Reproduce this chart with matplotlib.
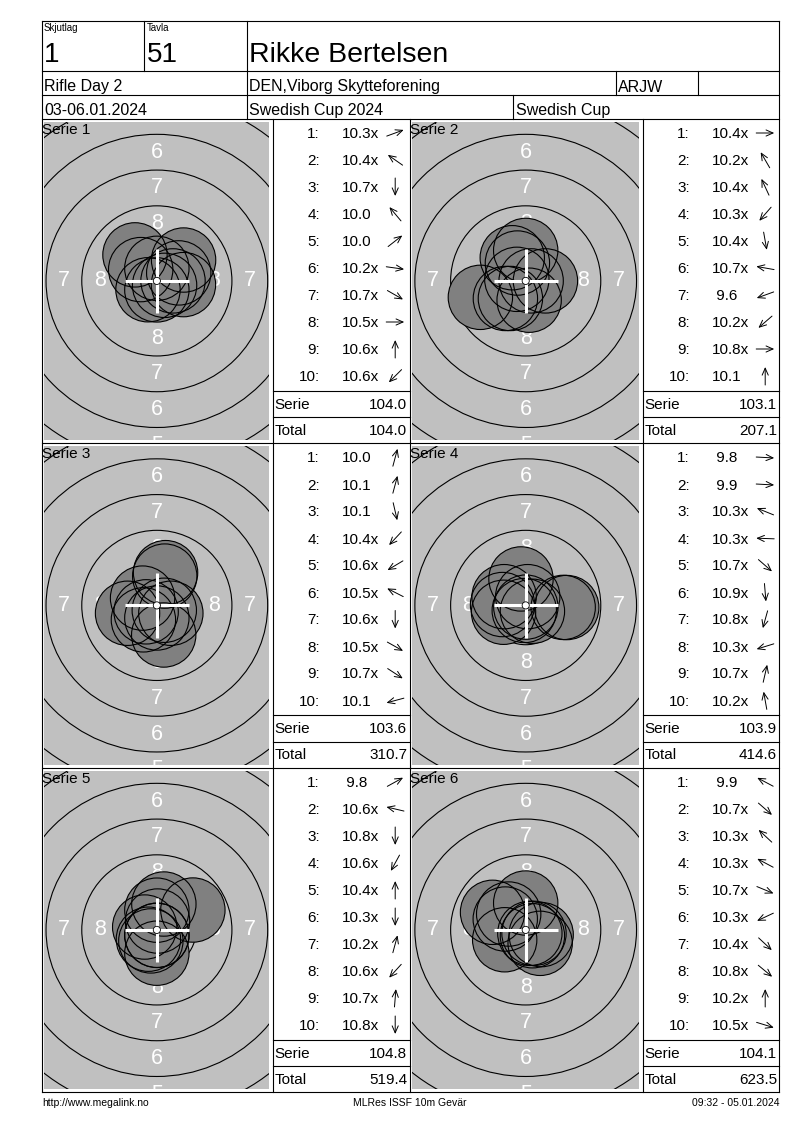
import numpy as np
import matplotlib.pyplot as plt
from matplotlib.patches import Circle

plt.rcParams['font.family'] = ['Liberation Sans', 'DejaVu Sans']

# Header texts
squad = '1'
lane = '51'
shooter = 'Rikke Bertelsen'
event = 'Rifle Day 2'
club = 'DEN,Viborg Skytteforening'
shooter_class = 'ARJW'
dates = '03-06.01.2024'
competition = 'Swedish Cup 2024'
cup = 'Swedish Cup'
footer_left = 'http://www.megalink.no'
footer_mid = 'MLRes ISSF 10m Gevär'
footer_right = '09:32 - 05.01.2024'

# Shot values per series (10 shots each)
shot_scores = [
    ['10.3x', '10.4x', '10.7x', '10.0', '10.0', '10.2x', '10.7x', '10.5x', '10.6x', '10.6x'],
    ['10.4x', '10.2x', '10.4x', '10.3x', '10.4x', '10.7x', '9.6', '10.2x', '10.8x', '10.1'],
    ['10.0', '10.1', '10.1', '10.4x', '10.6x', '10.5x', '10.6x', '10.5x', '10.7x', '10.1'],
    ['9.8', '9.9', '10.3x', '10.3x', '10.7x', '10.9x', '10.8x', '10.3x', '10.7x', '10.2x'],
    ['9.8', '10.6x', '10.8x', '10.6x', '10.4x', '10.3x', '10.2x', '10.6x', '10.7x', '10.8x'],
    ['9.9', '10.7x', '10.3x', '10.3x', '10.7x', '10.3x', '10.4x', '10.8x', '10.2x', '10.5x'],
]
# hit positions in mm from target centre
shot_x = [
    [1.53, -1.13, 0.00, -1.53, 1.87, 1.86, 0.54, 1.13, 0.00, -0.62],
    [1.38, -0.94, -0.58, -1.07, 0.24, -0.62, -3.17, -1.42, 0.38, 0.00],
    [0.61, 0.55, 0.48, -0.94, -0.75, -1.00, 0.00, 0.98, 0.52, -2.05],
    [2.87, 2.62, -1.51, -1.62, 0.47, 0.01, -0.10, -1.55, 0.14, -0.33],
    [2.52, -0.85, 0.00, -0.42, 0.00, 0.00, 0.49, -0.59, 0.05, 0.00],
    [-2.32, 0.47, -1.19, -1.43, 0.58, -1.47, 1.01, 0.29, 0.00, 1.08],
]
shot_y = [
    [0.56, 0.79, -0.63, 1.82, 1.46, -0.26, -0.31, 0.00, 0.88, -0.62],
    [0.00, 1.62, 1.25, -1.23, -1.35, 0.11, -1.15, -1.23, 0.00, 2.13],
    [2.29, 2.05, -2.07, -1.01, -0.45, 0.51, -0.88, -0.55, -0.34, -0.55],
    [-0.15, -0.14, 0.61, 0.06, -0.41, -0.12, -0.36, -0.48, 0.61, 1.85],
    [1.39, 0.20, -0.38, -0.77, 1.38, -1.63, 1.81, -0.65, 0.62, -0.38],
    [1.23, -0.41, 1.11, 0.76, -0.24, -0.69, -0.94, -0.24, 1.88, -0.33],
]
serie_sums = ['104.0', '103.1', '103.6', '103.9', '104.8', '104.1']
running_totals = ['104.0', '207.1', '310.7', '414.6', '519.4', '623.5']

# ISSF 10m air rifle target rings (radius in mm)
ring_radii = [2.75, 5.25, 7.75, 10.25, 12.75, 15.25]
ring_labels = ['8', '7', '6', '5']
ring_label_r = [4.0, 6.5, 9.0, 11.5]
pellet_r = 2.25

W, H = 800, 1130
PX_PER_MM = 14.3

fig = plt.figure(figsize=(8, 11.3), dpi=100)


def px_axes(x0, y0, x1, y1, **kw):
    return fig.add_axes([x0 / W, 1 - y1 / H, (x1 - x0) / W, (y1 - y0) / H], **kw)


# column edges and row layout (pixels)
L1, L2, L3, L4, R = 42, 272.7, 409.7, 642.7, 779.3
TOP, ROW0, ROW_H = 21, 118.5, 324.5
BOTTOM = ROW0 + 3 * ROW_H

# --- targets ---
for s in range(6):
    row, col = divmod(s, 2)
    top = ROW0 + row * ROW_H
    cl, cr = (L1, L2) if col == 0 else (L3, L4)
    gx0, gx1 = cl + 2.3, cr - 3.3
    gy0, gy1 = top + 3.3, top + ROW_H - 3
    ax = px_axes(gx0, gy0, gx1, gy1)
    hw = (gx1 - gx0) / 2 / PX_PER_MM
    hh = (gy1 - gy0) / 2 / PX_PER_MM
    ax.set_xlim(-hw, hw)
    ax.set_ylim(-hh, hh)
    ax.set_facecolor('#c0c0c0')
    ax.set_xticks([])
    ax.set_yticks([])
    for sp in ax.spines.values():
        sp.set_visible(False)

    for r in ring_radii:
        ax.add_patch(Circle((0, 0), r, fill=False, ec='black', lw=0.8, zorder=1))
    for lab, r in zip(ring_labels, ring_label_r):
        for dx, dy in [(0, 1), (0, -1), (-1, 0), (1, 0)]:
            # only labels that fall (at least partly) inside the visible window
            if abs(dx * r) > hw - 0.3 or abs(dy * r) > hh + 0.7:
                continue
            ax.text(dx * r, dy * r, lab, color='white', fontsize=15.5,
                    ha='center', va='center', clip_on=True, zorder=2)

    for x, y in zip(shot_x[s], shot_y[s]):
        ax.add_patch(Circle((x, y), pellet_r, fc='#808080', ec='none', zorder=3))
    for x, y in zip(shot_x[s], shot_y[s]):
        ax.add_patch(Circle((x, y), pellet_r, fill=False, ec='black', lw=0.8, zorder=4))

    ax.plot([-pellet_r, pellet_r], [0, 0], color='white', lw=2.2, zorder=5, solid_capstyle='butt')
    ax.plot([0, 0], [-pellet_r, pellet_r], color='white', lw=2.2, zorder=5, solid_capstyle='butt')
    ax.add_patch(Circle((0, 0), 0.25, fc='white', ec='black', lw=0.6, zorder=6))

# --- overlay with table lines and texts ---
ov = fig.add_axes([0, 0, 1, 1], zorder=5)
ov.set_xlim(0, W)
ov.set_ylim(H, 0)
ov.axis('off')
ov.patch.set_alpha(0)


def hline(y, x0, x1):
    ov.plot([x0, x1], [y, y], color='black', lw=0.8)


def vline(x, y0, y1):
    ov.plot([x, x], [y0, y1], color='black', lw=0.8)


# outer frame + header grid
hline(TOP, L1, R)
hline(BOTTOM, L1, R)
vline(L1, TOP, BOTTOM)
vline(R, TOP, BOTTOM)
hline(70.7, L1, R)
hline(95, L1, R)
hline(ROW0, L1, R)
vline(144.3, TOP, 70.7)
vline(246.7, TOP, ROW0)
vline(616, 70.7, 95)
vline(698, 70.7, 95)
vline(513.3, 95, ROW0)

ov.text(44, 28, 'Skjutlag', fontsize=7, va='center')
ov.text(146.5, 28, 'Tavla', fontsize=7, va='center')
ov.text(44, 62.5, squad, fontsize=20, va='baseline')
ov.text(146.5, 62.5, lane, fontsize=20, va='baseline')
ov.text(249, 62.5, shooter, fontsize=20.5, va='baseline')
ov.text(44, 91.5, event, fontsize=11.5, va='baseline')
ov.text(249, 91.5, club, fontsize=11.5, va='baseline')
ov.text(618, 91.5, shooter_class, fontsize=11.5, va='baseline')
ov.text(44, 115, dates, fontsize=11.5, va='baseline')
ov.text(249, 115, competition, fontsize=11.5, va='baseline')
ov.text(515.5, 115, cup, fontsize=11.5, va='baseline')

# series grid
for row in range(1, 3):
    hline(ROW0 + row * ROW_H, L1, R)
for x in (L2, L3, L4):
    vline(x, ROW0, BOTTOM)

for s in range(6):
    row, col = divmod(s, 2)
    top = ROW0 + row * ROW_H
    cl = L1 if col == 0 else L3
    ll, lr = (L2, L3) if col == 0 else (L4, R)

    ov.text(cl + 0.5, top + 15.5, f'Serie {s + 1}', fontsize=11, va='baseline')

    for i, (lab, x, y) in enumerate(zip(shot_scores[s], shot_x[s], shot_y[s])):
        base = top + 19.5 + 27 * i
        ov.text(ll + 47.3, base, f'{i + 1}:', fontsize=11, ha='right', va='baseline')
        txt = lab if lab.startswith('1') else ' ' + lab
        ov.text(ll + 69, base, txt, fontsize=11, ha='left', va='baseline')
        ang = np.arctan2(y, x)
        cx, cy = ll + 122.5, top + 14.5 + 27 * i
        dx, dy = 9 * np.cos(ang), -9 * np.sin(ang)
        ov.annotate('', xy=(cx + dx, cy + dy), xytext=(cx - dx, cy - dy),
                    arrowprops=dict(arrowstyle='->,head_length=0.5,head_width=0.22',
                                    lw=0.7, color='black', shrinkA=0, shrinkB=0))

    hline(top + 272.2, ll, lr)
    hline(top + 298.8, ll, lr)
    ov.text(ll + 1.8, top + 290.2, 'Serie', fontsize=11, va='baseline')
    ov.text(lr - 2.2, top + 290.2, serie_sums[s], fontsize=11, ha='right', va='baseline')
    ov.text(ll + 1.8, top + 316.2, 'Total', fontsize=11, va='baseline')
    ov.text(lr - 2.2, top + 316.2, running_totals[s], fontsize=11, ha='right', va='baseline')

# footer
ov.text(L1, 1106, footer_left, fontsize=7.5, va='baseline')
ov.text(410, 1106, footer_mid, fontsize=7.5, ha='center', va='baseline')
ov.text(R, 1106, footer_right, fontsize=7.5, ha='right', va='baseline')

fig.savefig('out.png', dpi=100, facecolor='white')
